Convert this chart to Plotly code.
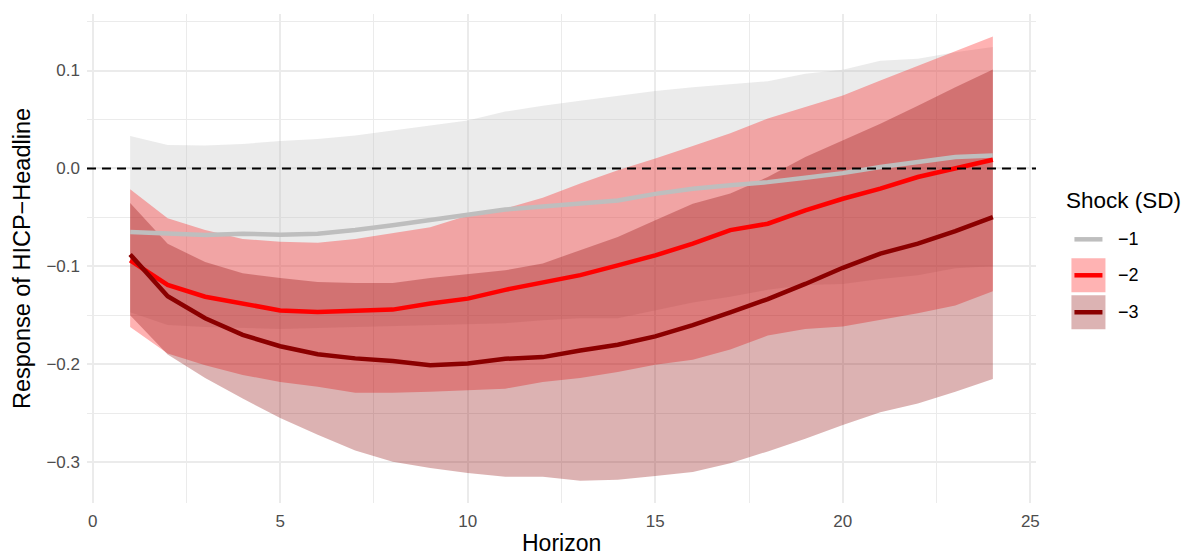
import plotly.graph_objects as go

# ---------------- data ----------------
horizon = list(range(1, 25))

shock_labels = ["\u22121", "\u22122", "\u22123"]

irf_m1 = [-0.065, -0.0667, -0.068, -0.0667, -0.0677, -0.0667, -0.063, -0.058, -0.053, -0.047,
          -0.042, -0.0388, -0.036, -0.0327, -0.026, -0.0207, -0.0173, -0.014, -0.0095, -0.0048,
          0.0014, 0.0065, 0.0116, 0.0133]
upper_m1 = [0.033, 0.024, 0.0235, 0.025, 0.028, 0.030, 0.0337, 0.039, 0.044, 0.049,
            0.058, 0.064, 0.069, 0.074, 0.079, 0.083, 0.086, 0.089, 0.0966, 0.1007,
            0.110, 0.112, 0.1187, 0.124]
lower_m1 = [-0.147, -0.160, -0.162, -0.163, -0.164, -0.163, -0.162, -0.161, -0.160, -0.159,
            -0.158, -0.155, -0.153, -0.153, -0.145, -0.137, -0.131, -0.124, -0.119, -0.118,
            -0.113, -0.109, -0.102, -0.100]

irf_m2 = [-0.0939, -0.119, -0.131, -0.138, -0.145, -0.1466, -0.1456, -0.1442, -0.138, -0.133,
          -0.124, -0.117, -0.109, -0.099, -0.0888, -0.0769, -0.063, -0.0565, -0.0429, -0.031,
          -0.0207, -0.0088, -0.0003, 0.0089]
upper_m2 = [-0.0214, -0.051, -0.063, -0.072, -0.075, -0.076, -0.072, -0.066, -0.060, -0.048,
            -0.041, -0.030, -0.0155, -0.002, 0.010, 0.023, 0.036, 0.051, 0.0626, 0.0745,
            0.0898, 0.105, 0.1197, 0.1347]
lower_m2 = [-0.162, -0.189, -0.201, -0.211, -0.218, -0.223, -0.229, -0.229, -0.228, -0.2265,
            -0.225, -0.218, -0.214, -0.208, -0.2005, -0.1954, -0.185, -0.1706, -0.164, -0.1614,
            -0.1547, -0.148, -0.140, -0.1255]

irf_m3 = [-0.0878, -0.1306, -0.153, -0.170, -0.1816, -0.1898, -0.194, -0.1966, -0.201, -0.1993,
          -0.1944, -0.1927, -0.1859, -0.180, -0.1716, -0.160, -0.147, -0.1335, -0.118, -0.1015,
          -0.087, -0.0769, -0.064, -0.0497]
upper_m3 = [-0.0354, -0.077, -0.0956, -0.107, -0.112, -0.116, -0.117, -0.117, -0.112, -0.108,
            -0.104, -0.097, -0.0837, -0.070, -0.053, -0.036, -0.0257, -0.0088, 0.0116, 0.0286,
            0.0456, 0.064, 0.083, 0.101]
lower_m3 = [-0.150, -0.190, -0.214, -0.235, -0.255, -0.272, -0.288, -0.2997, -0.306, -0.311,
            -0.315, -0.315, -0.319, -0.318, -0.314, -0.310, -0.301, -0.289, -0.276, -0.262,
            -0.249, -0.240, -0.228, -0.215]

line_colors = ["#BEBEBE", "#FF0000", "#8B0000"]
fill_colors = ["rgba(190,190,190,0.3)", "rgba(255,0,0,0.3)", "rgba(139,0,0,0.3)"]
legend_box_colors = ["#EBEBEB", "#FFB3B3", "#DCB3B3"]

x_ticks = [0, 5, 10, 15, 20, 25]
y_ticks = [-0.3, -0.2, -0.1, 0.0, 0.1]

# ---------------- layout geometry (window pixels) ----------------
WIN_W, WIN_H = 1191, 555
OFF = 8  # default page body margin
W, H = WIN_W - OFF, WIN_H - OFF
L, R, T, B = 87.4, 1035.6, 13.5, 502.9


def px_x(px):
    return (px - L) / (R - L)


def px_y(py):
    return (B - py) / (B - T)


FONT = "Liberation Sans, Arial, sans-serif"

fig = go.Figure()

series = [(irf_m1, upper_m1, lower_m1), (irf_m2, upper_m2, lower_m2), (irf_m3, upper_m3, lower_m3)]

# ribbons
for i, (m, up, lo) in enumerate(series):
    fig.add_trace(go.Scatter(x=horizon, y=lo, mode="lines", line=dict(width=0),
                             showlegend=False, hoverinfo="skip"))
    fig.add_trace(go.Scatter(x=horizon, y=up, mode="lines", line=dict(width=0),
                             fill="tonexty", fillcolor=fill_colors[i],
                             showlegend=False, hoverinfo="skip"))

# zero line
fig.add_hline(y=0, line=dict(color="black", width=2, dash="9px,6px"), layer="above")

# point estimates
for i, (m, up, lo) in enumerate(series):
    fig.add_trace(go.Scatter(x=horizon, y=m, mode="lines", name=shock_labels[i],
                             line=dict(color=line_colors[i], width=4.5),
                             showlegend=False))

# ---------------- manual legend (ggplot style) ----------------
shapes = []
annotations = []
box_x0, box_x1 = 1071, 1105
box_tops = [222, 258, 295]
box_h = 34
for i in range(3):
    y0 = box_tops[i]
    y1 = y0 + box_h
    yc = (y0 + y1) / 2
    shapes.append(dict(type="rect", xref="paper", yref="paper",
                       x0=px_x(box_x0), x1=px_x(box_x1), y0=px_y(y1), y1=px_y(y0),
                       fillcolor=legend_box_colors[i], line=dict(width=0), layer="above"))
    shapes.append(dict(type="line", xref="paper", yref="paper",
                       x0=px_x(box_x0 + 3), x1=px_x(box_x1 - 3), y0=px_y(yc), y1=px_y(yc),
                       line=dict(color=line_colors[i], width=4.5), layer="above"))
    annotations.append(dict(text=shock_labels[i], xref="paper", yref="paper",
                            x=px_x(1116), y=px_y(yc), xanchor="left", yanchor="middle",
                            showarrow=False, font=dict(family=FONT, size=18, color="black")))

annotations.append(dict(text="Shock (SD)", xref="paper", yref="paper",
                        x=px_x(1064), y=px_y(200), xanchor="left", yanchor="middle",
                        showarrow=False, font=dict(family=FONT, size=22.5, color="black")))

# axis titles
annotations.append(dict(text="Horizon", xref="paper", yref="paper",
                        x=0.5, y=px_y(543), xanchor="center", yanchor="middle",
                        showarrow=False, font=dict(family=FONT, size=23, color="black")))
annotations.append(dict(text="Response of HICP\u2212Headline", xref="paper", yref="paper",
                        x=px_x(22), y=0.5, xanchor="center", yanchor="middle", textangle=-90,
                        showarrow=False, font=dict(family=FONT, size=23.5, color="black")))

fig.update_layout(
    width=W, height=H,
    margin=dict(l=L - OFF, r=WIN_W - R, t=T - OFF, b=WIN_H - B, autoexpand=False),
    paper_bgcolor="white", plot_bgcolor="white",
    shapes=shapes, annotations=annotations,
    showlegend=False,
    font=dict(family=FONT),
)

fig.update_xaxes(
    range=[-0.15, 25.15], tickvals=x_ticks, ticktext=[str(v) for v in x_ticks],
    showgrid=True, gridcolor="#EBEBEB", gridwidth=1.8,
    minor=dict(tickvals=[2.5, 7.5, 12.5, 17.5, 22.5], showgrid=True, gridcolor="#EBEBEB", gridwidth=1),
    zeroline=False, showline=False, ticks="",
    tickfont=dict(family=FONT, size=17, color="#4D4D4D"),
    ticklabelstandoff=6,
)
fig.update_yaxes(
    range=[-0.3417, 0.1577], tickvals=y_ticks, tickformat=".1f",
    showgrid=True, gridcolor="#EBEBEB", gridwidth=1.8,
    minor=dict(tickvals=[-0.25, -0.15, -0.05, 0.05, 0.15], showgrid=True, gridcolor="#EBEBEB", gridwidth=1),
    zeroline=False, showline=False, ticks="",
    tickfont=dict(family=FONT, size=17, color="#4D4D4D"),
    ticklabelstandoff=6,
)

fig.write_html("out.html")
